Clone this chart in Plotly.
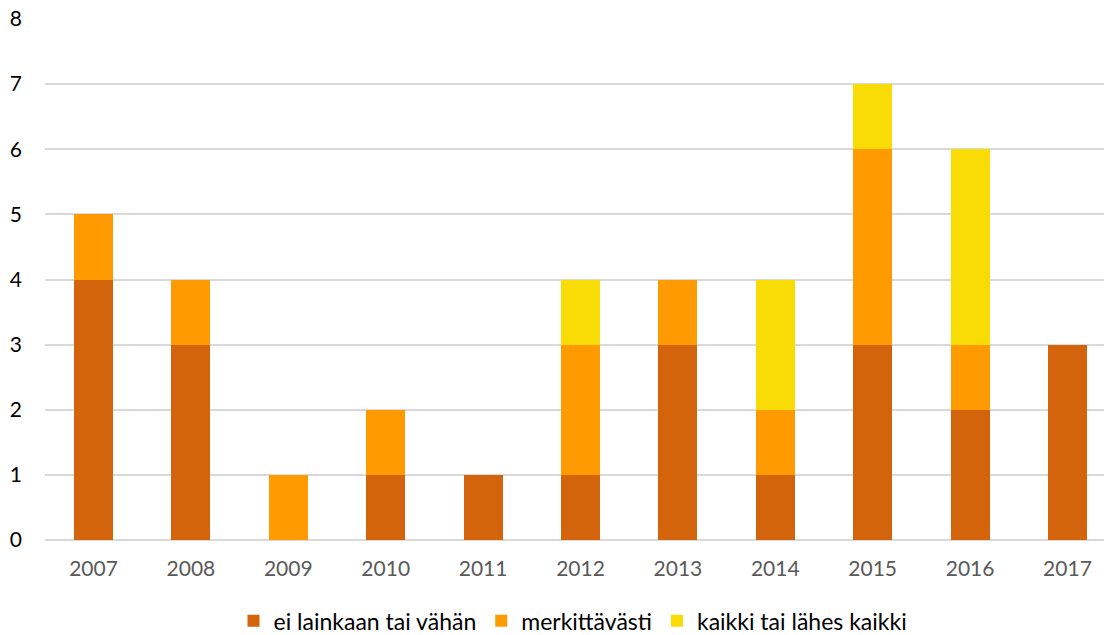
import plotly.graph_objects as go

years = ["2007", "2008", "2009", "2010", "2011", "2012", "2013", "2014", "2015", "2016", "2017"]
ei_lainkaan = [4, 3, 0, 1, 1, 1, 3, 1, 3, 2, 3]
merkittavasti = [1, 1, 1, 1, 0, 2, 1, 1, 3, 1, 0]
kaikki = [0, 0, 0, 0, 0, 1, 0, 2, 1, 3, 0]

series = [
    ("ei lainkaan tai vähän", ei_lainkaan, "#D3640B"),
    ("merkittävästi", merkittavasti, "#FF9A00"),
    ("kaikki tai lähes kaikki", kaikki, "#F9DC05"),
]

fig = go.Figure()
for name, vals, col in series:
    fig.add_trace(go.Bar(x=years, y=vals, name=name, marker=dict(color=col, line=dict(width=0))))

fig.update_layout(
    barmode="stack",
    bargap=0.6,
    width=1105, height=635,
    margin=dict(l=45, r=1, t=19, b=95, autoexpand=False),
    plot_bgcolor="white", paper_bgcolor="white",
    font=dict(family="Lato, Open Sans, sans-serif", size=21, color="#000000"),
    legend=dict(orientation="h", x=0.4986, xanchor="center", y=-0.155, yanchor="middle",
                font=dict(size=23, color="#000000"), itemwidth=30, traceorder="normal",
                tracegroupgap=0),
    showlegend=True,
)
fig.update_xaxes(type="category", range=[-0.498, 10.375], showgrid=False, showline=False,
                 automargin=False,
                 ticks="", tickfont=dict(color="#595959", size=21), ticklabelstandoff=14)
fig.update_yaxes(range=[0, 8], dtick=1, showgrid=True, gridcolor="#D9D9D9", gridwidth=1.5,
                 automargin=False,
                 zeroline=True, zerolinecolor="#D9D9D9", zerolinewidth=1.5, showline=False,
                 ticks="", tickfont=dict(color="#000000", size=21), ticklabelstandoff=22)

fig.write_html("out.html", config={"displayModeBar": False},
               post_script="document.body.style.margin='0';document.body.style.overflow='hidden';")
